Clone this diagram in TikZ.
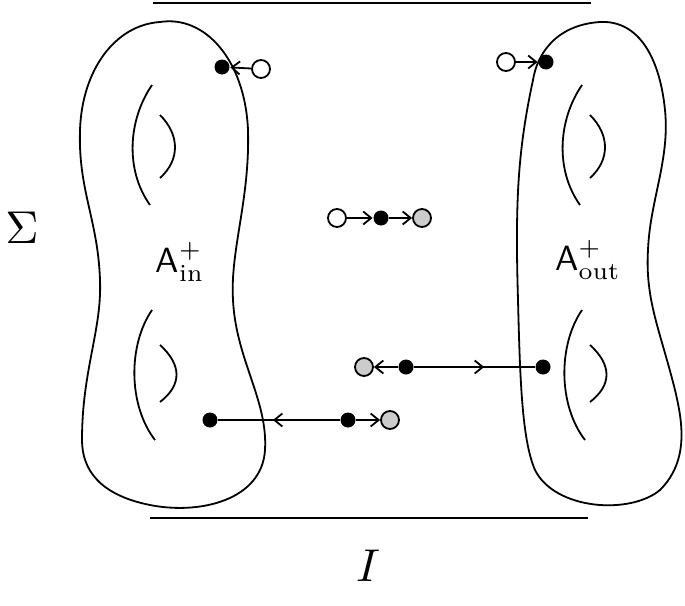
\documentclass[tikz,border=0pt]{standalone}
\usepackage{fontspec}
\usetikzlibrary{decorations.markings,arrows.meta}
\begin{document}
\begin{tikzpicture}[x=1pt,y=-1pt,line width=1.8pt,
  bd/.style={circle,fill=black,inner sep=0pt,minimum size=15pt},
  wd/.style={circle,draw,fill=white,inner sep=0pt,minimum size=18pt},
  gd/.style={circle,draw,fill=black!20,inner sep=0pt,minimum size=18pt},
  tip/.style={-{Straight Barb[length=8pt,width=13pt]}},
  midarr/.style={postaction={decorate},decoration={markings,mark=at position #1 with {\arrow{Straight Barb[length=8pt,width=13pt]}}}}]
\useasboundingbox (0,0) rectangle (685,605);
\draw (153,3) -- (591,3);
\draw (150,518) -- (588,518);
% left blob
\draw (160,22) .. controls (205,15) and (245,60) .. (248,130)
  .. controls (250,200) and (230,250) .. (233,300)
  .. controls (236,360) and (268,400) .. (265,450)
  .. controls (262,500) and (200,515) .. (150,505)
  .. controls (100,495) and (82,470) .. (82,440)
  .. controls (82,370) and (102,330) .. (100,280)
  .. controls (98,220) and (78,190) .. (80,130)
  .. controls (82,70) and (115,25) .. (160,22);
% right blob
\draw (600,22) .. controls (555,25) and (537,55) .. (533,80)
  .. controls (518,150) and (515,200) .. (518,300)
  .. controls (520,380) and (522,440) .. (535,470)
  .. controls (555,510) and (630,515) .. (660,490)
  .. controls (690,460) and (682,420) .. (675,390)
  .. controls (660,330) and (645,300) .. (648,250)
  .. controls (650,200) and (670,160) .. (665,110)
  .. controls (660,60) and (640,20) .. (600,22);
% handles
\foreach \dx in {0,430}{
\begin{scope}[xshift=\dx]
\draw (152,85) .. controls (128,120) and (125,170) .. (150,205);
\draw (160,115) .. controls (180,135) and (180,160) .. (160,178);
\draw (152,310) .. controls (128,345) and (128,405) .. (155,440);
\draw (160,345) .. controls (182,365) and (182,385) .. (160,402);
\end{scope}}
\node[scale=4.6] (sig) at (22,228) {$\Sigma$};
\node[scale=4.6] (ii) at (368,566) {$I$};
\node[scale=3.5] (ain) at (180,262) {$\mathsf{A}^+_{\mathrm{in}}$};
\node[scale=3.5] (aout) at (588,260) {$\mathsf{A}^+_{\mathrm{out}}$};
% dots
\node[bd] (a1) at (222,67) {};
\node[wd] (a2) at (261,69) {};
\node[wd] (b1) at (506,62) {};
\node[bd] (b2) at (546,62) {};
\node[wd] (c1) at (337,218) {};
\node[bd] (c2) at (381,218) {};
\node[gd] (c3) at (422,218) {};
\node[gd] (d1) at (364,367) {};
\node[bd] (d2) at (406,367) {};
\node[bd] (d3) at (543,367) {};
\node[bd] (e1) at (210,420) {};
\node[bd] (e2) at (348,420) {};
\node[gd] (e3) at (390,420) {};
\draw[tip] (a2) -- (a1);
\draw[tip] (b1) -- (b2);
\draw[tip] (c1) -- (c2);
\draw[tip] (c2) -- (c3);
\draw[tip] (d2) -- (d1);
\draw[midarr=0.58] (d2) -- (d3);
\draw[midarr=0.55] (e2) -- (e1);
\draw[tip] (e2) -- (e3);
\end{tikzpicture}
\end{document}
